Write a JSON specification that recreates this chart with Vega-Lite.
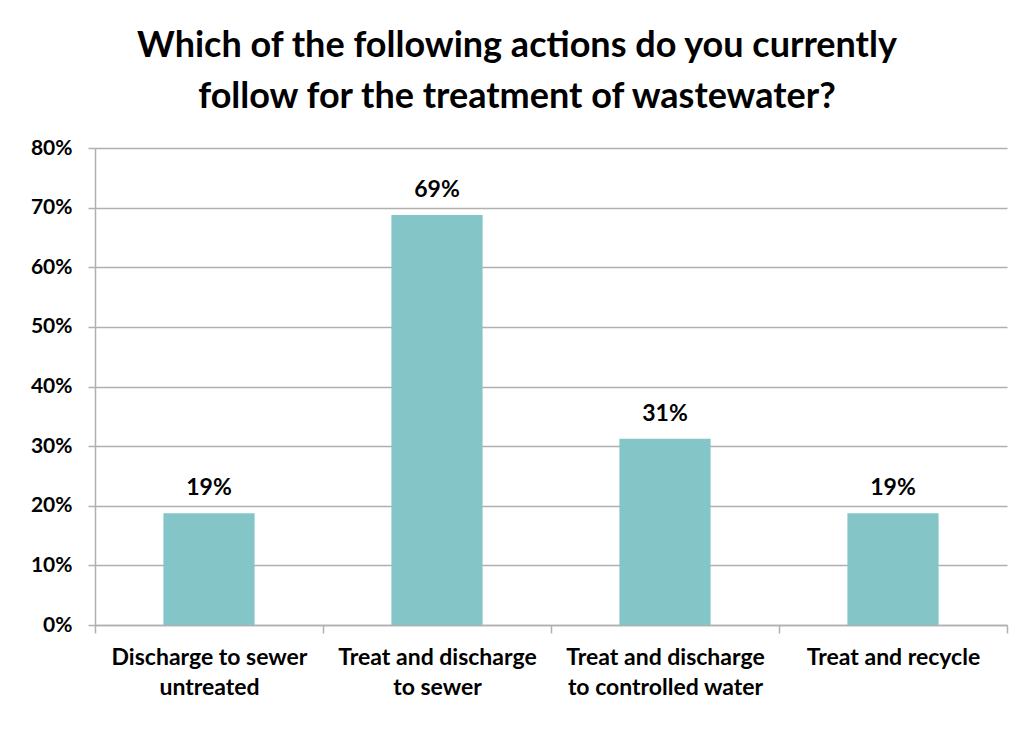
{
  "$schema": "https://vega.github.io/schema/vega-lite/v6.json",
  "width": 912,
  "height": 477,
  "autosize": {"type": "none"},
  "padding": {"left": 95, "top": 148, "right": 9, "bottom": 108},
  "background": "white",
  "title": {
    "text": ["Which of the following actions do you currently", "follow for the treatment of wastewater?"],
    "font": "Lato",
    "fontSize": 36,
    "fontWeight": "bold",
    "color": "black",
    "lineHeight": 51,
    "anchor": "middle",
    "dx": -34,
    "offset": 21
  },
  "data": {
    "values": [
      {"action": "Discharge to sewer\nuntreated", "share": 0.1875},
      {"action": "Treat and discharge\nto sewer", "share": 0.6875},
      {"action": "Treat and discharge\nto controlled water", "share": 0.3125},
      {"action": "Treat and recycle", "share": 0.1875}
    ]
  },
  "encoding": {
    "x": {
      "field": "action",
      "type": "nominal",
      "sort": null,
      "scale": {"paddingInner": 0, "paddingOuter": 0},
      "axis": {
        "title": null,
        "labelAngle": 0,
        "labelExpr": "split(datum.label, '\\n')",
        "labelFont": "Lato",
        "labelFontSize": 23,
        "labelFontWeight": "bold",
        "labelColor": "black",
        "labelLineHeight": 30,
        "labelPadding": 13,
        "labelLimit": 300,
        "tickBand": "extent",
        "tickSize": 8,
        "tickColor": "#b0b0b0",
        "domainColor": "#b0b0b0",
        "tickWidth": 1.5,
        "domainWidth": 1.5
      }
    },
    "y": {
      "field": "share",
      "type": "quantitative",
      "scale": {"domain": [0, 0.8]},
      "axis": {
        "title": null,
        "values": [0, 0.1, 0.2, 0.3, 0.4, 0.5, 0.6, 0.7, 0.8],
        "format": ".0%",
        "grid": true,
        "gridColor": "#b0b0b0",
        "gridWidth": 1.5,
        "domainColor": "#b0b0b0",
        "domainWidth": 1.5,
        "tickColor": "#b0b0b0",
        "tickWidth": 1.5,
        "tickSize": 7,
        "labelFont": "Lato",
        "labelFontSize": 21,
        "labelFontWeight": "bold",
        "labelColor": "black",
        "labelPadding": 16
      }
    }
  },
  "layer": [
    {"mark": {"type": "bar", "color": "#84C6C7", "width": {"band": 0.4}}},
    {
      "mark": {"type": "text", "font": "Lato", "fontSize": 23, "fontWeight": "bold", "color": "black", "baseline": "middle", "dy": -25},
      "encoding": {"text": {"field": "share", "type": "quantitative", "format": ".0%"}}
    }
  ],
  "config": {"view": {"stroke": null}}
}
